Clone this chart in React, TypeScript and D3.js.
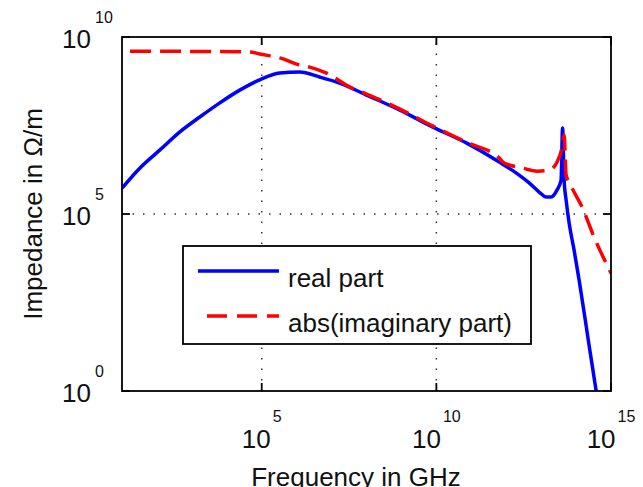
import React from 'react';
import * as d3 from 'd3';

// frequency (GHz) and impedance (Ohm/m)
const realFreq = [
  1e1, 3.27e1, 1.22e2, 4.54e2, 1.69e3, 6.31e3, 2.35e4, 8.77e4, 3.27e5, 1.22e6,
  4.54e6, 1.69e7, 1.0e8, 8.77e8, 7.69e9, 7.19e10, 6.31e11, 2.35e12, 4.54e12,
  8.77e12, 1.39e13, 1.93e13, 2.86e13, 3.72e13, 4.11e13, 4.54e13, 5.18e13,
  6.31e13, 8.77e13, 1.22e14, 2.35e14, 3.72e14, 4.54e14,
];
const realZ = [
  5.37e5, 2.0e6, 6.46e6, 2.09e7, 5.5e7, 1.38e8, 3.16e8, 6.17e8, 9.55e8, 1.02e9,
  7.41e8, 5.01e8, 2.29e8, 8.71e7, 2.88e7, 1.02e7, 2.95e6, 1.26e6, 7.59e5,
  4.17e5, 3.02e5, 3.02e5, 4.79e5, 9.12e5, 2.69e7, 9.12e5, 2.51e5,
  5.62e4, 9.55e3, 1.38e3, 2.0e1, 1.07, 0.29,
];

const imagFreq = [
  1.7e1, 4.54e4, 8.77e4, 3.27e5, 1.22e6, 2.35e6, 7.19e6, 3.27e7, 1e8, 8.77e8,
  7.69e9, 7.19e10, 6.31e11, 8.77e11, 2.86e12, 7.69e12, 1.69e13, 2.86e13,
  3.98e13, 4.54e13, 5.18e13, 6.31e13, 8.77e13, 1.48e14, 3.27e14, 1e15,
];
const imagZ = [
  3.98e9, 3.8e9, 3.31e9, 2.57e9, 1.62e9, 1.41e9, 9.55e8, 3.89e8, 2.45e8, 9.33e7,
  3.09e7, 1.07e7, 3.8e6, 2.75e6, 2.0e6, 1.62e6, 1.74e6, 2.95e6,
  7.76e6, 1.7e7, 1.26e6, 7.94e5, 4.17e5, 1.58e5, 2.24e4, 2.14e3,
];

const xTicks = [1e5, 1e10, 1e15];
const yTicks = [1e0, 1e5, 1e10];
const legendLabels = ['real part', 'abs(imaginary part)'];

export default function App() {
  const width = 643;
  const height = 487;
  const left = 122, right = 611, top = 37, bottom = 391;
  const font = 'Liberation Sans, Arial, Helvetica, sans-serif';

  const x = d3.scaleLog().domain([1e1, 1e15]).range([left, right]);
  const y = d3.scaleLog().domain([1e0, 1e10]).range([bottom, top]);

  const line = d3
    .line<[number, number]>()
    .x((d) => x(d[0]))
    .y((d) => y(d[1]))
    .curve(d3.curveMonotoneX);

  const realPts = realFreq.map((f, i) => [f, realZ[i]] as [number, number]);
  const imagPts = imagFreq.map((f, i) => [f, imagZ[i]] as [number, number]);

  const exp = (v: number) => String(Math.round(Math.log10(v)));

  return (
    <svg
      width={width}
      height={height}
      style={{ position: 'absolute', left: 0, top: 0, background: '#fff' }}
      fontFamily={font}
    >
      <defs>
        <clipPath id="plot">
          <rect x={left} y={top} width={right - left} height={bottom - top} />
        </clipPath>
      </defs>
      <rect width={width} height={height} fill="#fff" />

      {/* grid */}
      {xTicks
        .filter((t) => t < 1e15)
        .map((t) => (
          <line
            key={'gx' + t}
            x1={x(t)}
            x2={x(t)}
            y1={bottom}
            y2={top}
            stroke="#333"
            strokeWidth={1.5}
            strokeDasharray="1.5,9"
          />
        ))}
      {yTicks
        .filter((t) => t > 1 && t < 1e10)
        .map((t) => (
          <line
            key={'gy' + t}
            x1={left}
            x2={right}
            y1={y(t)}
            y2={y(t)}
            stroke="#333"
            strokeWidth={1.5}
            strokeDasharray="1.5,9"
          />
        ))}

      {/* curves */}
      <g clipPath="url(#plot)">
        <path d={line(realPts) || ''} fill="none" stroke="#0000ff" strokeWidth={3.5} strokeLinejoin="round" />
        <path
          d={line(imagPts) || ''}
          fill="none"
          stroke="#ff0000"
          strokeWidth={3.5}
          strokeDasharray="21,9"
        />
      </g>

      {/* box and ticks */}
      <rect x={left} y={top} width={right - left} height={bottom - top} fill="none" stroke="#000" strokeWidth={1.8} />
      {xTicks.map((t) => (
        <g key={'tx' + t}>
          <line x1={x(t)} x2={x(t)} y1={bottom} y2={bottom - 8} stroke="#000" strokeWidth={1.8} />
          <line x1={x(t)} x2={x(t)} y1={top} y2={top + 8} stroke="#000" strokeWidth={1.8} />
          <text x={x(t)} y={448} textAnchor="middle" fontSize={26} fill="#111">
            10
            <tspan dx={2} dy={-26} fontSize={16}>
              {exp(t)}
            </tspan>
          </text>
        </g>
      ))}
      {yTicks.map((t) => (
        <g key={'ty' + t}>
          <line x1={left} x2={left + 8} y1={y(t)} y2={y(t)} stroke="#000" strokeWidth={1.8} />
          <line x1={right} x2={right - 8} y1={y(t)} y2={y(t)} stroke="#000" strokeWidth={1.8} />
          <text x={91} y={y(t) + 11} textAnchor="end" fontSize={26} fill="#111">
            10
          </text>
          <text x={95} y={y(t) - 14} fontSize={16} fill="#111">
            {exp(t)}
          </text>
        </g>
      ))}

      {/* axis labels */}
      <text x={356} y={486} textAnchor="middle" fontSize={26} fill="#111">
        Frequency in GHz
      </text>
      <text transform={`translate(42,${(top + bottom) / 2}) rotate(-90)`} textAnchor="middle" fontSize={26} fill="#111">
        Impedance in Ω/m
      </text>

      {/* legend */}
      <g>
        <rect x={183} y={246} width={348} height={98} fill="#fff" stroke="#000" strokeWidth={1.8} />
        <line x1={198} x2={279} y1={271} y2={271} stroke="#0000ff" strokeWidth={3.5} />
        <line x1={207} x2={279} y1={316} y2={316} stroke="#ff0000" strokeWidth={3.5} strokeDasharray="20,10" />
        <text x={288} y={287} fontSize={26} fill="#111">
          {legendLabels[0]}
        </text>
        <text x={288} y={332} fontSize={26} fill="#111">
          {legendLabels[1]}
        </text>
      </g>
    </svg>
  );
}
